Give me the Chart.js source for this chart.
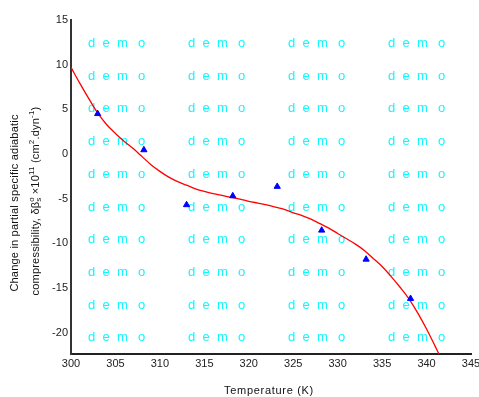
<!DOCTYPE html>
<html>
<head>
<meta charset="utf-8">
<script src="https://cdn.jsdelivr.net/npm/chart.js@4"></script>
<style>
  html, body { margin: 0; padding: 0; background: #fff; }
  #wrap { width: 479px; height: 397px; }
</style>
</head>
<body>
<div id="wrap"><canvas id="chart" width="479" height="397"></canvas></div>
<script>
// measured points
var tempK = [303, 308.2, 313, 318.2, 323.2, 328.2, 333.2, 338.2];
var deltaBeta = [4.5, 0.45, -5.7, -4.7, -3.65, -8.55, -11.8, -16.2];

// fitted curve
var fitT = [300, 301, 302, 303, 304, 305, 306, 307, 308, 309, 310, 311, 312, 313, 314,
    315, 316, 317, 318, 319, 320, 321, 322, 323, 324, 325, 326, 327, 328, 329, 330,
    331, 332, 333, 334, 335, 336, 337, 338, 339, 340, 341, 341.4];
var fitVal = [9.7, 7.9, 6.2, 4.6, 3.3, 2.3, 1.4, 0.6, -0.3, -1.2, -1.95, -2.6, -3.1, -3.5, -3.9,
    -4.2, -4.45, -4.65, -4.85, -5.05, -5.3, -5.5, -5.7, -5.95, -6.2, -6.6, -6.9, -7.3, -7.8, -8.3, -8.9,
    -9.5, -10.1, -10.8, -11.7, -12.6, -13.7, -14.9, -16.2, -17.8, -19.6, -21.6, -22.4];

var xTicks = [300, 305, 310, 315, 320, 325, 330, 335, 340, 345];
var yTicks = [-20, -15, -10, -5, 0, 5, 10, 15];

var FONT = '"Liberation Sans", Arial, sans-serif';

function toXY(xs, ys) {
    var out = [];
    for (var i = 0; i < xs.length; i++) out.push({x: xs[i], y: ys[i]});
    return out;
}

// repeating "demo" stamp behind the lines
var stampPlugin = {
    id: 'stamp',
    beforeDatasetsDraw: function(chart) {
        var ctx = chart.ctx;
        var letters = ['d', 'e', 'm', 'o'];
        var offs = [0, 14.5, 29, 50];
        ctx.save();
        ctx.font = '13px ' + FONT;
        ctx.fillStyle = '#11f6ff';
        ctx.textBaseline = 'middle';
        ctx.textAlign = 'left';
        for (var r = 0; r < 10; r++) {
            var y = 43.5 + r * 32.7;
            for (var c = 0; c < 4; c++) {
                var x = 88 + c * 100;
                for (var k = 0; k < letters.length; k++) {
                    ctx.fillText(letters[k], x + offs[k], y);
                }
            }
        }
        ctx.restore();
    }
};

function drawRich(ctx, parts, cx, cy) {
    var big = '11px ' + FONT, small = '8px ' + FONT;
    var total = 0;
    parts.forEach(function(p) {
        ctx.font = p.s ? small : big;
        p.w = ctx.measureText(p.t).width;
        if (!p.keep) total += p.w;
    });
    var x = cx - total / 2;
    parts.forEach(function(p) {
        ctx.font = p.s ? small : big;
        var dy = p.s === 'sup' ? -4 : (p.s === 'sub' ? 3 : 0);
        ctx.fillText(p.t, x, cy + dy);
        if (!p.keep) x += p.w;
    });
}

var titlePlugin = {
    id: 'axisTitles',
    afterDraw: function(chart) {
        var ctx = chart.ctx;
        ctx.save();
        ctx.fillStyle = '#111';
        ctx.textBaseline = 'middle';
        ctx.textAlign = 'left';
        ctx.font = '11px ' + FONT;
        ctx.letterSpacing = '0.7px';
        var tw = ctx.measureText('Temperature (K)').width;
        ctx.fillText('Temperature (K)', 269 - tw / 2, 391);
        ctx.letterSpacing = '0.2px';

        ctx.save();
        ctx.translate(0, 203);
        ctx.rotate(-Math.PI / 2);
        drawRich(ctx, [{t: 'Change in partial specific adiabatic'}], 0, 15);
        ctx.restore();

        ctx.translate(0, 201);
        ctx.rotate(-Math.PI / 2);
        drawRich(ctx, [
            {t: 'compressibility, δβ'},
            {t: 'o', s: 'sup', keep: true},
            {t: 's', s: 'sub'},
            {t: ' ×10'},
            {t: '11', s: 'sup'},
            {t: ' (cm'},
            {t: '2', s: 'sup'},
            {t: '.dyn'},
            {t: '-1', s: 'sup'},
            {t: ')'}
        ], 0, 36);
        ctx.restore();
    }
};

var ctx = document.getElementById('chart').getContext('2d');
var chart = new Chart(ctx, {
    type: 'scatter',
    data: {
        datasets: [{
            data: toXY(tempK, deltaBeta),
            pointStyle: 'triangle',
            pointRadius: 3.6,
            pointBackgroundColor: '#0000ff',
            pointBorderColor: '#0000ff',
            pointBorderWidth: 1
        }, {
            data: toXY(fitT, fitVal),
            showLine: true,
            borderColor: '#ff0000',
            borderWidth: 1.3,
            pointRadius: 0,
            tension: 0.4,
            cubicInterpolationMode: 'monotone'
        }]
    },
    options: {
        responsive: false,
        animation: false,
        layout: { padding: { left: 0, right: 8, top: 20, bottom: 0 } },
        plugins: { legend: { display: false }, tooltip: { enabled: false } },
        scales: {
            x: {
                type: 'linear',
                min: 300,
                max: 345,
                afterBuildTicks: function(s) { s.ticks = xTicks.map(function(v) { return {value: v}; }); },
                afterFit: function(s) { s.height = 43; s.paddingLeft = 0; s.paddingRight = 0; },
                grid: { display: false, drawTicks: false },
                border: { color: '#222', width: 2 },
                ticks: { color: '#222', font: { family: FONT, size: 11 }, padding: 3, maxRotation: 0 }
            },
            y: {
                min: -22.4,
                max: 15,
                afterBuildTicks: function(s) { s.ticks = yTicks.map(function(v) { return {value: v}; }); },
                afterFit: function(s) { s.width = 71; s.paddingTop = 0; s.paddingBottom = 0; },
                grid: { display: false, drawTicks: false },
                border: { color: '#333', width: 2 },
                ticks: { color: '#222', font: { family: FONT, size: 11 }, padding: 3 }
            }
        }
    },
    plugins: [stampPlugin, titlePlugin]
});
</script>
</body>
</html>
